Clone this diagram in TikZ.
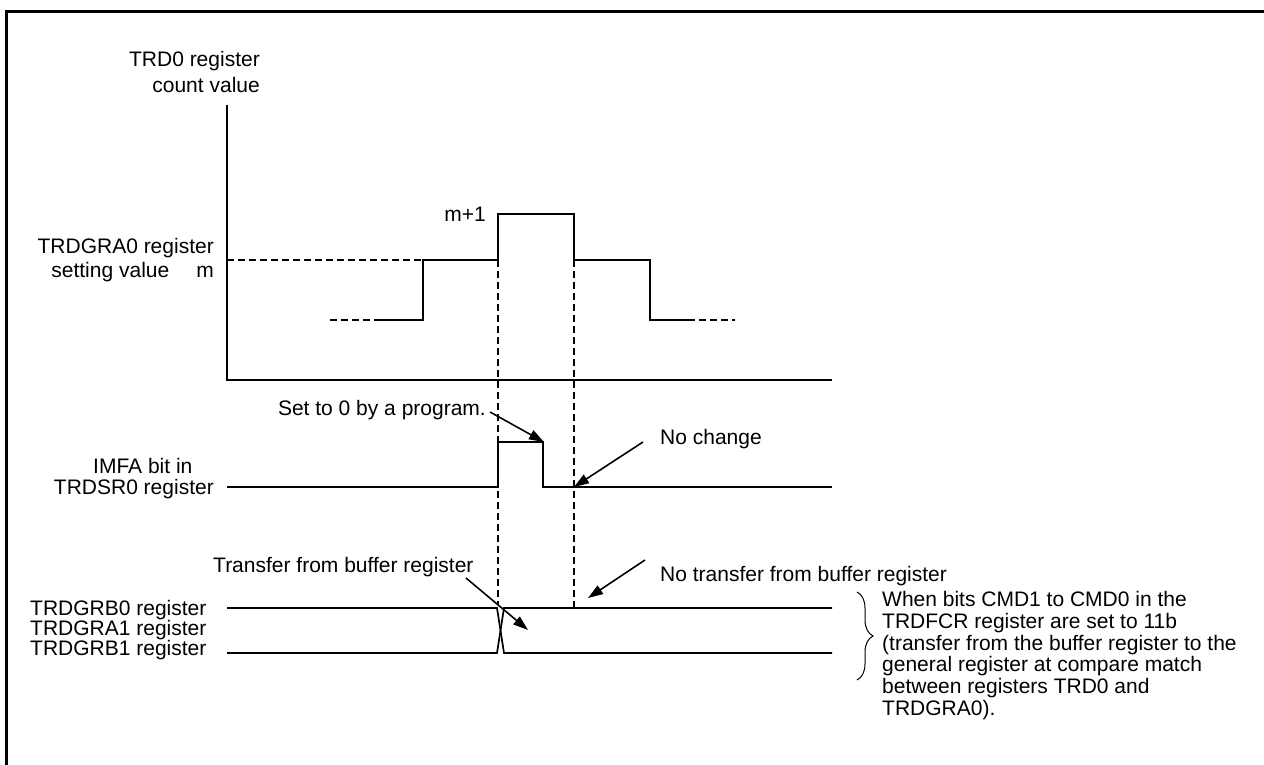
\documentclass[tikz,border=0pt]{standalone}
\usepackage{fontspec}
\setmainfont{Liberation Sans}
\usetikzlibrary{arrows.meta,decorations.pathreplacing}
\tikzset{
  sigline/.style={line width=1.7pt},
  guideline/.style={line width=2.8pt, dash pattern=on 7pt off 4pt},
  callout/.style={-{Triangle[length=15pt,width=10pt]}, line width=1.6pt},
  lbl/.style={inner sep=0pt, font=\fontsize{21}{26}\selectfont}
}

\begin{document}
\begin{tikzpicture}[x=1pt, y=-1pt]
    \useasboundingbox (0,0) rectangle (1264,765);
    \draw[line width=3pt] (6,765) -- (6,12) -- (1264,12);

    % labels
    \node[lbl, anchor=east, align=right] (cnt) at (260,72) {TRD0 register\\count value};
    \node[lbl, anchor=east, align=right, font=\fontsize{21}{24}\selectfont] (gra) at (214,260) {TRDGRA0 register\\setting value\hspace{27pt}m};
    \node[lbl, anchor=east] (mone) at (486,214) {m+1};
    \node[lbl, anchor=west] (imfa) at (93,466) {IMFA bit in};
    \node[lbl, anchor=east] (tsr) at (214,489) {TRDSR0 register};
    \node[lbl, anchor=west, align=left, font=\fontsize{21}{20}\selectfont] (regs) at (30,630) {TRDGRB0 register\\TRDGRA1 register\\TRDGRB1 register};
    \node[lbl, anchor=east] (setlbl) at (486,410) {Set to 0 by a program.};
    \node[lbl, anchor=west] (nochg) at (660,439) {No change};
    \node[lbl, anchor=west] (xfer) at (213,567) {Transfer from buffer register};
    \node[lbl, anchor=west] (noxfer) at (660,576) {No transfer from buffer register};
    \node[lbl, anchor=north west, align=left, font=\fontsize{21}{21.8}\selectfont] (note) at (882,591) {When bits CMD1 to CMD0 in the\\TRDFCR register are set to 11b\\(transfer from the buffer register to the\\general register at compare match\\between registers TRD0 and\\TRDGRA0).};

    % axes
    \draw[sigline] (227,105) -- (227,380) -- (832,380);

    % counter waveform
    \draw[guideline] (227,260) -- (438,260);
    \draw[guideline] (330,320) -- (378,320);
    \draw[guideline] (688,320) -- (735,320);
    \draw[sigline] (378,320) -- (423,320) -- (423,260) -- (498,260) -- (498,214)
      -- (574,214) -- (574,260) -- (650,260) -- (650,320) -- (688,320);

    % IMFA flag
    \draw[sigline] (227,487) -- (498,487) -- (498,442) -- (543,442) -- (543,487) -- (832,487);

    % buffered registers
    \draw[sigline] (227,608) -- (497,608) -- (504,653) -- (832,653);
    \draw[sigline] (227,653) -- (497,653) -- (504,608) -- (832,608);

    % compare match guides
    \draw[guideline] (498,260) -- (498,604);
    \draw[guideline] (574,260) -- (574,608);

    % callouts
    \coordinate (setTail) at (490,412);
    \coordinate (setTip) at (544,442);
    \coordinate (chgTail) at (643,442);
    \coordinate (chgTip) at (574,487);
    \coordinate (xferTail) at (466,578);
    \coordinate (xferTip) at (528,630);
    \coordinate (noxTail) at (645,560);
    \coordinate (noxTip) at (588,598);
    \draw[callout] (setTail) -- (setTip);
    \draw[callout] (chgTail) -- (chgTip);
    \draw[callout] (xferTail) -- (xferTip);
    \draw[callout] (noxTail) -- (noxTip);

    % brace
    \draw[line width=1pt, decorate, decoration={brace, amplitude=16pt, aspect=0.5}] (857,592) -- (857,680);
\end{tikzpicture}
\end{document}
